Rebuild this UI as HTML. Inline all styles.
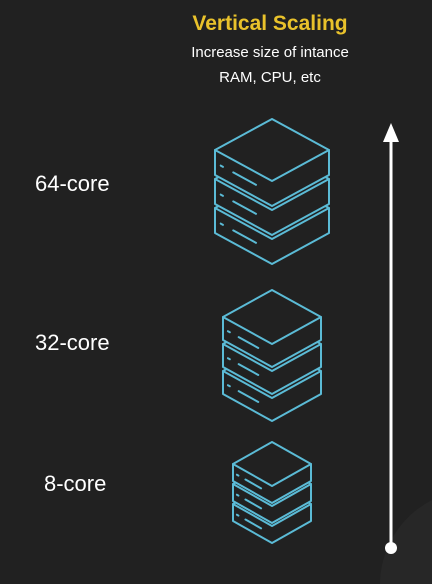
<!DOCTYPE html>
<html><head><style>
html,body{margin:0;padding:0;background:#212121;}
body{width:432px;height:584px;overflow:hidden;position:relative;font-family:"Liberation Sans",sans-serif;}
svg{display:block;}
</style></head><body>
<svg width="432" height="584" viewBox="0 0 432 584" xmlns="http://www.w3.org/2000/svg">
<rect width="432" height="584" fill="#212121"/>
<path d="M380,584 A95,95 0 0 1 432,500 L432,584 Z" fill="#272727"/>
<text x="270" y="30" text-anchor="middle" fill="#e9c22b" font-size="21" font-weight="bold" font-family="Liberation Sans, sans-serif">Vertical Scaling</text>
<text x="270" y="57" text-anchor="middle" fill="#fff" font-size="15" font-family="Liberation Sans, sans-serif">Increase size of intance</text>
<text x="270" y="82" text-anchor="middle" fill="#fff" font-size="15" font-family="Liberation Sans, sans-serif">RAM, CPU, etc</text>
<g fill="#fff" font-size="22" font-family="Liberation Sans, sans-serif">
<text x="35" y="191">64-core</text>
<text x="35" y="350">32-core</text>
<text x="44" y="491">8-core</text>
</g>
<line x1="391" y1="140" x2="391" y2="548" stroke="#fff" stroke-width="3"/>
<polygon points="391,123 383,142 399,142" fill="#fff"/>
<circle cx="391" cy="548" r="6" fill="#fff"/>
<g id="icons" fill="#212121" stroke="#5bbbd6" stroke-width="2" stroke-linejoin="round" stroke-linecap="round"></g>
</svg>
<script>
function stack(cx,w,y0,h,t,s,n){
 var g=document.getElementById('icons'),out='';
 for(var i=n-1;i>=0;i--){
  var y=y0+i*s;
  out+='<polygon points="'+cx+','+y+' '+(cx+w)+','+(y+h)+' '+(cx+w)+','+(y+h+t)+' '+cx+','+(y+2*h+t)+' '+(cx-w)+','+(y+h+t)+' '+(cx-w)+','+(y+h)+'"/>';
  out+='<polyline fill="none" points="'+(cx-w)+','+(y+h)+' '+cx+','+(y+2*h)+' '+(cx+w)+','+(y+h)+'"/>';
  var k=h/w, my=y+h+t*0.5;
  var x1=cx-w+w*0.1, x2=x1+w*0.04;
  out+='<line x1="'+x1+'" y1="'+(my+(x1-(cx-w))*k)+'" x2="'+x2+'" y2="'+(my+(x2-(cx-w))*k)+'"/>';
  var x3=cx-w+w*0.32, x4=cx-w+w*0.72;
  out+='<line x1="'+x3+'" y1="'+(my+(x3-(cx-w))*k)+'" x2="'+x4+'" y2="'+(my+(x4-(cx-w))*k)+'"/>';
 }
 g.innerHTML+=out;
}
stack(272,57,119,31,25,29,3);
stack(272,49,290,27,23,27,3);
stack(272,39,442,22,17,20,3);
</script>
</body></html>
